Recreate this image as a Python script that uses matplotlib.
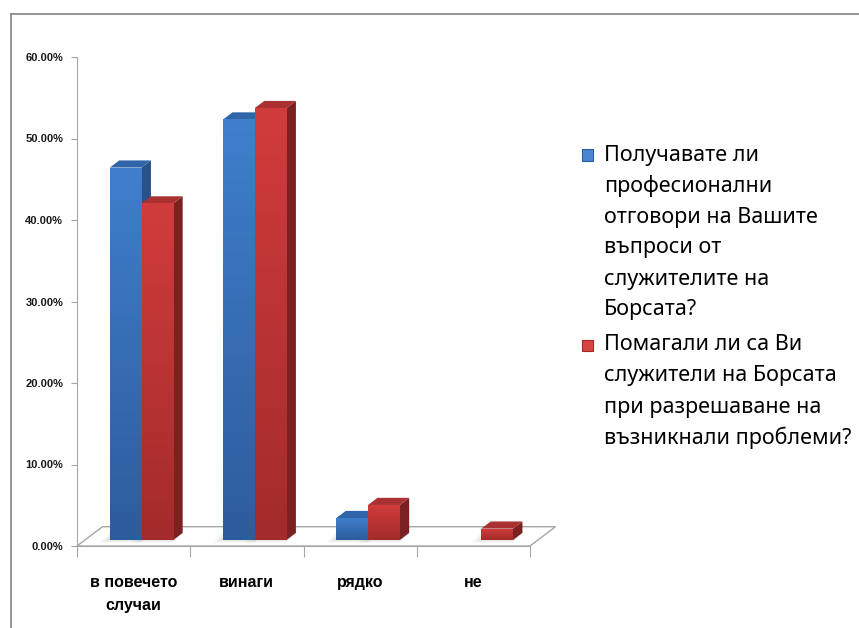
import matplotlib
matplotlib.use('Agg')
import matplotlib.pyplot as plt
from matplotlib.patches import Polygon, Rectangle
from matplotlib.lines import Line2D
from matplotlib.colors import LinearSegmentedColormap
import numpy as np

# ---------------- data ----------------
categories = ['в повечето\nслучаи', 'винаги', 'рядко', 'не']
series_names = [
    'Получавате ли\nпрофесионални\nотговори на Вашите\nвъпроси от\nслужителите на\nБорсата?',
    'Помагали ли са Ви\nслужители на Борсата\nпри разрешаване на\nвъзникнали проблеми?',
]
blue_vals = [45.7, 51.6, 2.7, 0.0]
red_vals = [41.3, 53.0, 4.3, 1.4]
y_ticks = [0, 10, 20, 30, 40, 50, 60]
y_tick_labels = ['0.00%', '10.00%', '20.00%', '30.00%', '40.00%', '50.00%', '60.00%']

# ---------------- style ----------------
FONT = ['Noto Sans', 'DejaVu Sans']
BOLD_FONT = ['Liberation Sans', 'DejaVu Sans']
plt.rcParams['font.family'] = FONT
W, H = 859, 628
fig = plt.figure(figsize=(W / 100, H / 100), dpi=100)
fig.patch.set_facecolor('white')

ax_left, ax_right, ax_top, ax_bot = 77, 530, 57, 546
ax = fig.add_axes([ax_left / W, (H - ax_bot) / H, (ax_right - ax_left) / W, (ax_bot - ax_top) / H])
ax.set_facecolor('none')
n = len(categories)
px_per_cat = (ax_right - ax_left) / n
px_per_pct = (ax_bot - ax_top) / 60.0

# depth of floor (oblique projection) in data units
FDx = 25.5 / px_per_cat
FDy = 19.3 / px_per_pct
t0, t1 = 0.31, 0.68  # bar front/back position within depth
bar_w = 0.28
bar_start = 0.22

grey = '#a6a6a6'
# floor
floor = Polygon([(0, 0), (n, 0), (n + FDx, FDy), (FDx, FDy)], closed=True,
                facecolor='white', edgecolor=grey, lw=1.0, zorder=1, clip_on=False)
ax.add_patch(floor)

series = [
    dict(vals=blue_vals, front=('#3f7fcc', '#2d5c9c'), top='#3165aa', side='#28518a'),
    dict(vals=red_vals, front=('#d13c3c', '#a32b2b'), top='#aa3131', side='#7b2121'),
]

z = 3
ddx = (t1 - t0) * FDx
ddy = (t1 - t0) * FDy
for i in range(n):
    for s, sd in enumerate(series):
        v = sd['vals'][i]
        if v <= 0:
            continue
        x0 = i + bar_start + s * bar_w + t0 * FDx
        y0 = t0 * FDy
        # soft shadow on the floor
        for k, a in enumerate([0.12, 0.09, 0.06]):
            off = 0.03 * (k + 1)
            sh = Polygon([(x0 - off, y0 - 0.05 - 0.15 * k), (x0 + bar_w, y0 - 0.05 - 0.15 * k),
                          (x0 + bar_w + ddx, y0 + ddy), (x0 - off + ddx, y0 + ddy)],
                         closed=True, facecolor='#808080', edgecolor='none', alpha=a, zorder=2, clip_on=False)
            ax.add_patch(sh)
        # side face
        side = Polygon([(x0 + bar_w, y0), (x0 + bar_w + ddx, y0 + ddy),
                        (x0 + bar_w + ddx, y0 + v + ddy), (x0 + bar_w, y0 + v)],
                       closed=True, facecolor=sd['side'], edgecolor='none', zorder=z, clip_on=False)
        ax.add_patch(side)
        # top face
        top = Polygon([(x0, y0 + v), (x0 + bar_w, y0 + v), (x0 + bar_w + ddx, y0 + v + ddy),
                       (x0 + ddx, y0 + v + ddy)],
                      closed=True, facecolor=sd['top'], edgecolor='none', zorder=z + 1, clip_on=False)
        ax.add_patch(top)
        # front face with vertical gradient
        front = Rectangle((x0, y0), bar_w, v, facecolor='none', edgecolor='none', zorder=z + 2, clip_on=False)
        ax.add_patch(front)
        cmap = LinearSegmentedColormap.from_list('g', [sd['front'][1], sd['front'][0]])
        grad = np.linspace(0, 1, 256).reshape(-1, 1)
        im = ax.imshow(grad, cmap=cmap, origin='lower', aspect='auto',
                       extent=(x0, x0 + bar_w, y0, y0 + v), zorder=z + 2, interpolation='bilinear')
        im.set_clip_path(front)
        z += 4

# axes styling
ax.set_xlim(0, n)
ax.set_ylim(0, 60)
for sp in ['top', 'right']:
    ax.spines[sp].set_visible(False)
ax.spines['left'].set_color(grey)
ax.spines['bottom'].set_color(grey)
ax.spines['left'].set_zorder(50)
ax.set_yticks(y_ticks)
ax.set_yticklabels(y_tick_labels, fontsize=8, fontweight='bold', color='#1a1a1a', family=BOLD_FONT)
ax.tick_params(axis='y', direction='out', length=4, color=grey, pad=6)
ax.set_xticks(np.arange(n + 1))
ax.set_xticklabels([''] * (n + 1))
ax.tick_params(axis='x', which='major', direction='out', length=8, color=grey)
ax.set_xticks(np.arange(n) + 0.5, minor=True)
ax.set_xticklabels(categories, minor=True, fontsize=11.5, fontweight='bold', color='#000000',
                   family=BOLD_FONT, linespacing=1.65)
ax.tick_params(axis='x', which='minor', length=0, pad=21)

# legend (manual)
leg_x_marker = 582
leg_x_text = 604
line_gap = 31
entry_tops = [155, 345]
colors_leg = [('#4a86d0', '#2d5c9c'), ('#d84444', '#a32b2b')]
for k, name in enumerate(series_names):
    yc = entry_tops[k]
    c = colors_leg[k]
    fig.patches.append(Rectangle(((leg_x_marker) / W, (H - yc - 5.5) / H), 11 / W, 11 / H,
                                 transform=fig.transFigure, facecolor=c[0], edgecolor=c[1], lw=0.8))
    for j, line in enumerate(name.split('\n')):
        fig.text(leg_x_text / W, (H - (yc + j * line_gap)) / H, line, fontsize=15.5,
                 ha='left', va='center', color='#000000')

# chart border lines
fig.add_artist(Line2D([10.5 / W, 10.5 / W], [0, (H - 13.5) / H], color='#8c8c8c', lw=1.3,
                      transform=fig.transFigure))
fig.add_artist(Line2D([10.5 / W, 1.0], [(H - 13.5) / H, (H - 13.5) / H], color='#8c8c8c', lw=1.3,
                      transform=fig.transFigure))

fig.savefig('out.png', dpi=100, facecolor='white')
